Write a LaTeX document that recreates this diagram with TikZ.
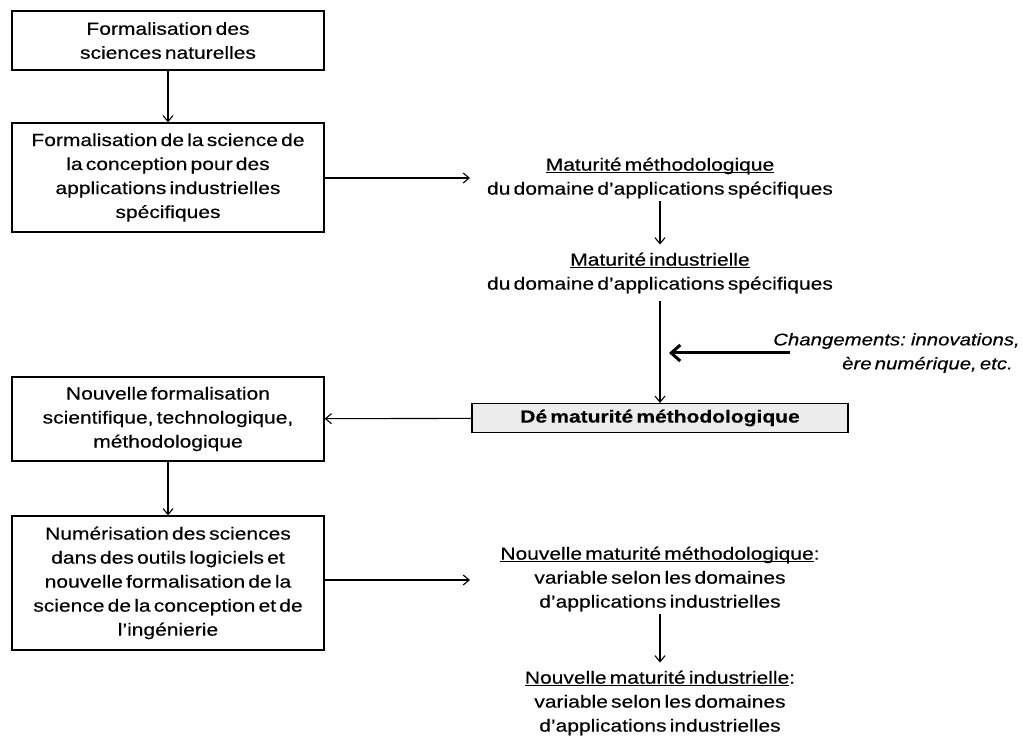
\documentclass[tikz,border=0pt]{standalone}
\usepackage{fontspec}
\setmainfont{Liberation Sans}[FakeStretch=1.2, WordSpace=0.55, FakeBold=0.35]
\usetikzlibrary{arrows.meta}
% underline drawn through the descenders, as in the printed figure
\newcommand{\ulbar}[1]{\setbox0\hbox{#1}\rlap{\rule[-2.6pt]{\wd0}{1pt}}\box0}
\begin{document}
\begin{tikzpicture}[x=1pt,y=-1pt,
  font=\fontsize{17.5}{24}\selectfont,
  box/.style={draw, line width=1.2pt, minimum width=312pt, align=center, inner sep=0pt},
  note/.style={align=center, inner sep=0pt},
  arr/.style={line width=1.1pt, -{Straight Barb[length=6pt,width=10pt]}},
  thick arr/.style={line width=3pt, -{Straight Barb[length=9pt,width=16pt]}}]
\useasboundingbox (0,0) rectangle (1023,743);

% left column: boxed steps
\node[box, minimum height=59pt]  (b1) at (168,40.5) {Formalisation des\\sciences naturelles};
\node[box, minimum height=109pt] (b2) at (168,177.5) {Formalisation de la science de\\la conception pour des\\applications industrielles\\spécifiques};
\node[box, minimum height=84pt]  (b3) at (168,419) {Nouvelle formalisation\\scientifique, technologique,\\méthodologique};
\node[box, minimum height=134pt] (b4) at (168,583) {Numérisation des sciences\\dans des outils logiciels et\\nouvelle formalisation de la\\science de la conception et de\\l’ingénierie};

% right column: maturity stages
\node[note] (m1) at (660,178) {\ulbar{Maturité méthodologique}\\du domaine d’applications spécifiques};
\node[note] (i1) at (660,273) {\ulbar{Maturité industrielle}\\du domaine d’applications spécifiques};
\node[box, minimum width=376pt, minimum height=29pt, fill=gray!15] (gr) at (660,418)
  {\bfseries Dé maturité méthodologique};
\node[note, align=right, anchor=east, font=\fontsize{17}{24}\selectfont\itshape] (chg) at (1020,353)
  {Changements: innovations,\\ère numérique, etc.\hspace*{7pt}};
\node[note] (m2) at (660,579) {\ulbar{Nouvelle maturité méthodologique}:\\variable selon les domaines\\d’applications industrielles};
\node[note] (i2) at (660,703) {\ulbar{Nouvelle maturité industrielle}:\\variable selon les domaines\\d’applications industrielles};

% free ends of the connectors
\coordinate (e1) at (470,178);
\coordinate (e2) at (470,580);
\coordinate (cs) at (790,353);
\coordinate (ce) at (669,353);

% connectors
\draw[arr] (b1) -- (b2);
\draw[arr] (b2.east |- e1) -- (e1);
\draw[arr, shorten <=3pt, shorten >=8pt] (m1) -- (i1);
\draw[arr, shorten <=8pt] (i1) -- (gr);
\draw[thick arr] (cs) -- (ce);
\draw[arr] (gr) -- (b3);
\draw[arr] (b3) -- (b4);
\draw[arr] (b4.east |- e2) -- (e2);
\draw[arr, shorten <=3pt, shorten >=8pt] (m2) -- (i2);
\end{tikzpicture}
\end{document}
